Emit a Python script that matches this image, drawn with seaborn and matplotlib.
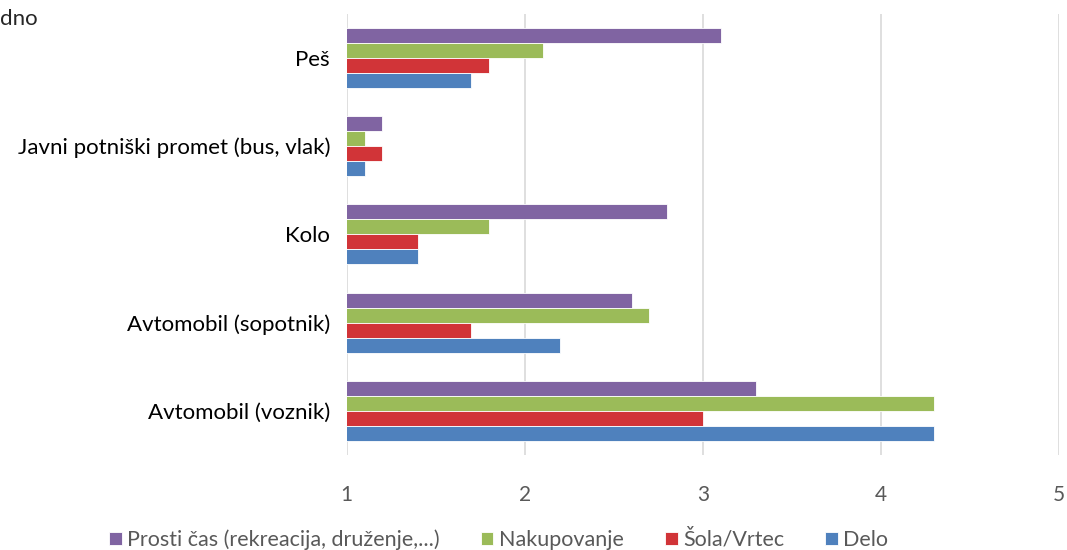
import pandas as pd
import matplotlib.pyplot as plt
import seaborn as sns

categories = ["Peš", "Javni potniški promet (bus, vlak)", "Kolo",
              "Avtomobil (sopotnik)", "Avtomobil (voznik)"]
series = ["Prosti čas (rekreacija, druženje,...)", "Nakupovanje", "Šola/Vrtec", "Delo"]
prosti = [3.1, 1.2, 2.8, 2.6, 3.3]
nakupovanje = [2.1, 1.1, 1.8, 2.7, 4.3]
sola = [1.8, 1.2, 1.4, 1.7, 3.0]
delo = [1.7, 1.1, 1.4, 2.2, 4.3]
colors = ["#8064A2", "#9BBB59", "#D13438", "#4F81BD"]

rows = []
for name, vals in zip(series, [prosti, nakupovanje, sola, delo]):
    for cat, v in zip(categories, vals):
        rows.append({"kategorija": cat, "namen": name, "vrednost": v})
df = pd.DataFrame(rows)

sns.set_style("white")
plt.rcParams['font.family'] = ['Lato', 'DejaVu Sans']

fig = plt.figure(figsize=(10.67, 5.5), dpi=100)
ax = fig.add_axes([0.325, 0.173, 0.6675, 0.802])
sns.barplot(data=df, y="kategorija", x="vrednost", hue="namen", order=categories,
            hue_order=series, palette=colors, orient="h", width=0.68,
            edgecolor="white", linewidth=0.6, saturation=1, ax=ax)

ax.set_xlim(1, 5)
ax.set_xticks([1, 2, 3, 4, 5])
ax.xaxis.grid(True, color="#D9D9D9", linewidth=1.2)
ax.set_axisbelow(True)
for s in ax.spines.values():
    s.set_visible(False)
ax.set_xlabel("")
ax.set_ylabel("")
ax.tick_params(axis="x", colors="#595959", labelsize=15, length=0, pad=22)
ax.tick_params(axis="y", labelsize=16, length=0, pad=12, labelcolor="black")

ax.legend(loc="upper center", bbox_to_anchor=(0.213, -0.125), ncol=4, frameon=False,
          fontsize=15.5, labelcolor="#595959", handlelength=0.6, handleheight=0.6,
          handletextpad=0.25, columnspacing=1.9)

fig.text(0.0, 0.965, "dno", fontsize=16, va="center", ha="left")

plt.savefig("out.png")
